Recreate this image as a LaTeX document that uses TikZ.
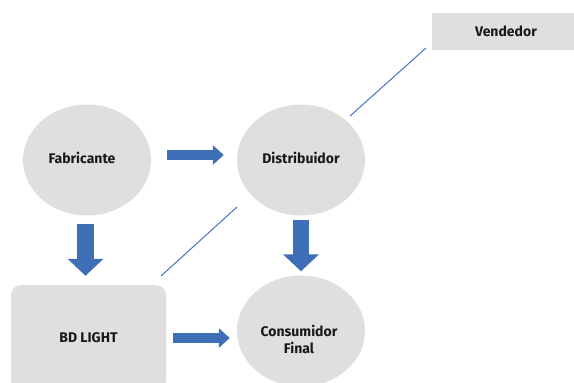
\documentclass[tikz,border=0pt]{standalone}
\usepackage{fontspec}
\setmainfont{Fira Sans}
\usepackage{tikz}
\usetikzlibrary{shapes.geometric,arrows.meta}
\definecolor{boxgray}{RGB}{224,223,222}
\definecolor{arrblue}{RGB}{61,110,182}
\definecolor{lineblue}{RGB}{68,114,196}
\tikzset{
  lbl/.style={font=\bfseries\fontsize{14}{17}\selectfont,align=center,text=black!90},
  oval/.style={ellipse,fill=boxgray,minimum width=128pt,minimum height=111pt,inner sep=0pt,lbl},
  rbox/.style={rectangle,fill=boxgray,rounded corners=10pt,minimum width=155pt,minimum height=106pt,lbl},
  vbox/.style={rectangle,fill=boxgray,minimum width=142pt,minimum height=37pt,lbl},
  harrow/.style={arrblue,line width=9.5pt,-{Triangle[length=11pt,width=19pt]}},
  varrow/.style={arrblue,line width=16.5pt,-{Triangle[length=17pt,width=35pt]}},
  thinline/.style={lineblue,line width=1pt}
}
\begin{document}
\begin{tikzpicture}[x=1pt,y=-1pt]
\useasboundingbox (0,0) rectangle (574,383);
% nodes
\node[oval] (fab) at (87,160) {};
\node[lbl] (fabT) at (82,158) {Fabricante};
\node[oval] (dist) at (301,160) {};
\node[lbl] (distT) at (301,158) {Distribuidor};
\node[oval] (cons) at (301,331) {};
\node[lbl] (consT) at (299,339) {Consumidor\\Final};
\node[rbox] (bd) at (88.5,338) {BD LIGHT};
\node[vbox] (vend) at (503,31.5) {};
\node[lbl] (vendT) at (506,31) {Vendedor};
% block arrows
\draw[harrow] ([xshift=16pt,yshift=5pt]fab.east) -- ([xshift=-13pt,yshift=5pt]dist.west);
\draw[varrow] ([xshift=-1.5pt,yshift=-8pt]fab.south) -- ([xshift=-3pt,yshift=9pt]bd.north);
\draw[varrow] ([yshift=-4pt]dist.south) -- ([yshift=4pt]cons.north);
\draw[harrow] ([xshift=7pt]bd.east) -- ([xshift=-7pt,yshift=-7pt]cons.west);
% thin lines
\coordinate (l1a) at (237,207);
\coordinate (l1b) at (161,276);
\coordinate (l2a) at (426,48);
\coordinate (l2b) at (350,116);
\draw[thinline] (l1a) -- (l1b);
\draw[thinline] (l2a) -- (l2b);
\end{tikzpicture}
\end{document}
